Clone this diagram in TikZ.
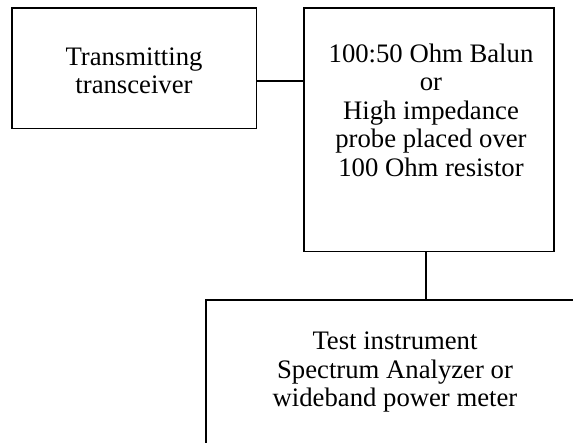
\documentclass[tikz,border=0pt]{standalone}
\usepackage{fontspec}
\setmainfont{Liberation Serif}
\begin{document}
\begin{tikzpicture}[x=1pt, y=1pt, line width=1.6pt,
    block/.style={draw, rectangle, inner sep=0pt},
    boxtext/.style={align=center, font=\fontsize{26.7}{28.5}\selectfont}]
    \path[use as bounding box, clip] (0,0) rectangle (573,-442);

    \node[block, minimum width=244.5pt, minimum height=120.5pt] (xcvr) at (134.25,-68.25) {};
    \node[boxtext] (xcvrtext) at (134,-71) {Transmitting\\transceiver};

    \node[block, minimum width=250pt, minimum height=243.5pt] (balun) at (429,-129.75) {};
    \node[boxtext] (baluntext) at (431,-110) {100:50 Ohm Balun\\or\\High impedance\\probe placed over\\100 Ohm resistor};

    \node[block, minimum width=378pt, minimum height=170pt] (instr) at (395,-385) {};
    \node[boxtext] (instrtext) at (395,-372) {Test instrument\\Spectrum Analyzer or\\wideband power meter};

    \draw ([yshift=-12.75pt]xcvr.east) -- ([yshift=-12.75pt]xcvr.east -| balun.west);
    \draw ([xshift=-3pt]balun.south) -- ([xshift=-3pt]balun.south |- instr.north);
\end{tikzpicture}
\end{document}
